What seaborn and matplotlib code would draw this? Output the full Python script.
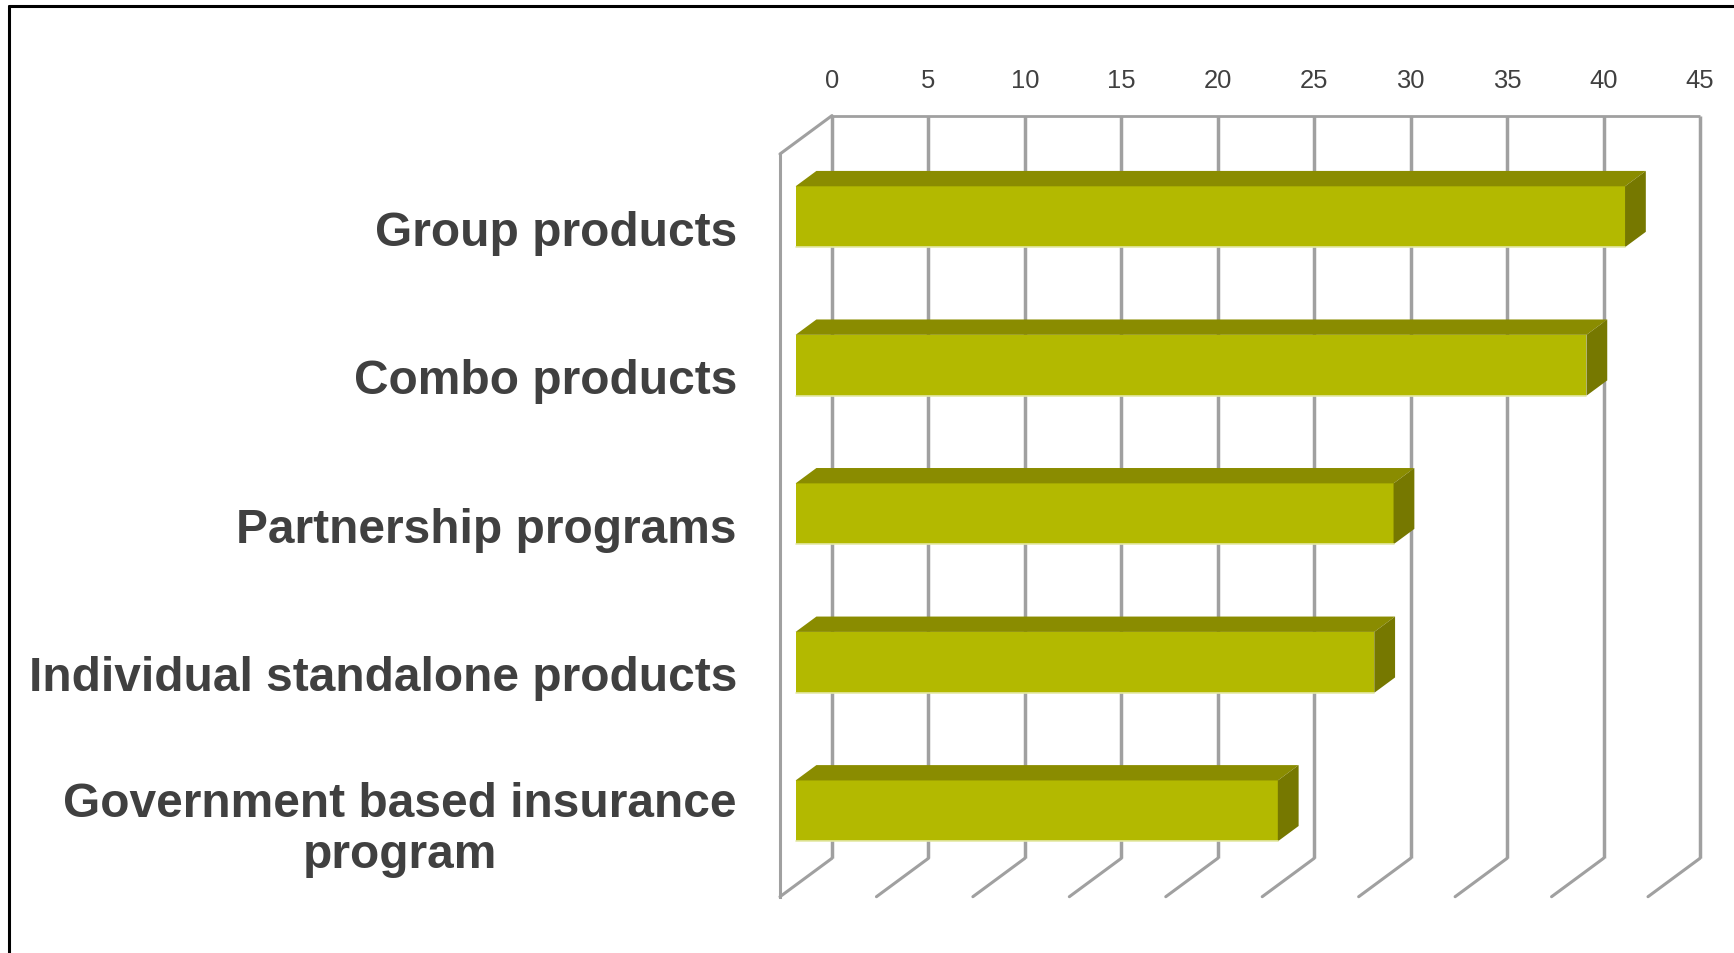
import numpy as np
import pandas as pd
import matplotlib
matplotlib.use("Agg")
import matplotlib.pyplot as plt
from matplotlib.patches import Polygon
from matplotlib.lines import Line2D
import seaborn as sns

# ---- data -------------------------------------------------------------
categories = [
    "Group products",
    "Combo products",
    "Partnership programs",
    "Individual standalone products",
    "Government based insurance\nprogram",
]
values = [43, 41, 31, 30, 25]
x_ticks = [0, 5, 10, 15, 20, 25, 30, 35, 40, 45]

# ---- style ------------------------------------------------------------
sns.set_style("white")
plt.rcParams["font.family"] = ["Liberation Sans", "DejaVu Sans"]

FRONT = "#B3B900"
TOP = "#8A8C00"
SIDE = "#767800"
GRID = "#A0A0A0"
TEXT = "#404040"

W, H = 1734, 953
fig = plt.figure(figsize=(W / 100, H / 100 + 0.0001), dpi=100)
fig.patch.set_facecolor("white")

# front plane of the 3-D box (pixels) and depth vector of the box
left_px, right_px = 780, 1648
top_px, bottom_px = 154, 896.7
depth_px = (52, 38.4)

rect_front = [left_px / W, (H - bottom_px) / H,
              (right_px - left_px) / W, (bottom_px - top_px) / H]
rect_back = [(left_px + depth_px[0]) / W, (H - bottom_px + depth_px[1]) / H,
             (right_px - left_px) / W, (bottom_px - top_px) / H]

# ---- back wall: gridlines and value labels -----------------------------
ax_back = fig.add_axes(rect_back, zorder=1)
ax_back.set_xlim(0, 45)
ax_back.set_ylim(0, 1)
ax_back.vlines(x_ticks, 0, 1, color=GRID, lw=2.5, clip_on=False)
ax_back.hlines(1, 0, 45, color=GRID, lw=2.0, clip_on=False)
for s in ax_back.spines.values():
    s.set_visible(False)
ax_back.set_yticks([])
ax_back.xaxis.tick_top()
ax_back.set_xticks(x_ticks)
ax_back.set_xticklabels([str(t) for t in x_ticks])
ax_back.tick_params(axis="x", length=0, pad=16.5, labelsize=18.4, labelcolor=TEXT)
ax_back.patch.set_alpha(0)

# ---- front plane: bars -------------------------------------------------
ax = fig.add_axes(rect_front, zorder=2)
ax.patch.set_alpha(0)
df = pd.DataFrame({"category": categories, "value": values})
sns.barplot(data=df, x="value", y="category", orient="h", width=0.41,
            color=FRONT, saturation=1, ax=ax, zorder=5)
ax.set_xlim(0, 45)
ax.set_ylim(len(categories) - 0.5, -0.5)

# depth vector in data units
ddx = depth_px[0] / ((right_px - left_px) / 45)
ddy = -depth_px[1] / ((bottom_px - top_px) / len(categories))
f0, bd = 0.30, 0.40  # bar front depth and bar thickness (fractions of box depth)

for p in list(ax.patches):
    x0, y0 = p.get_x(), p.get_y()
    w, h = p.get_width(), p.get_height()
    fx, fy = x0 + f0 * ddx, y0 + f0 * ddy
    p.set_x(fx)
    p.set_y(fy)
    p.set_edgecolor("none")
    p.set_clip_on(False)
    bx, by = bd * ddx, bd * ddy
    top = Polygon([(fx, fy), (fx + w, fy), (fx + w + bx, fy + by), (fx + bx, fy + by)],
                  closed=True, facecolor=TOP, edgecolor="none", zorder=5, clip_on=False)
    side = Polygon([(fx + w, fy), (fx + w, fy + h), (fx + w + bx, fy + h + by),
                    (fx + w + bx, fy + by)],
                   closed=True, facecolor=SIDE, edgecolor="none", zorder=5, clip_on=False)
    ax.add_patch(top)
    ax.add_patch(side)
    ax.plot([fx, fx + w], [fy + h, fy + h], color="#E4E9A8", lw=1.2,
            zorder=6, clip_on=False)

# floor and side-wall diagonals
ymax = len(categories) - 0.5
for t in x_ticks:
    ax.plot([t, t + ddx], [ymax, ymax + ddy], color=GRID, lw=2.2,
            clip_on=False, zorder=1)
ax.plot([0, ddx], [-0.5, -0.5 + ddy], color=GRID, lw=2.2, clip_on=False, zorder=1)

# axes decoration
for name, s in ax.spines.items():
    s.set_visible(name == "left")
ax.spines["left"].set_color(GRID)
ax.spines["left"].set_linewidth(2.2)
ax.set_xticks([])
ax.set_xlabel("")
ax.set_ylabel("")
ax.set_yticks(range(len(categories)))
ax.set_yticklabels(categories)
ax.set_yticks(np.arange(-0.5, len(categories), 1.0), minor=True)
ax.tick_params(axis="y", which="major", length=0, pad=31, labelsize=34.5,
               labelcolor=TEXT)
ax.tick_params(axis="y", which="minor", length=10, width=2.0, color=GRID)
for lab in ax.get_yticklabels():
    lab.set_fontweight("bold")
    lab.set_multialignment("center")
    lab.set_linespacing(1.17)

# outer frame (top and left edges)
fig.add_artist(Line2D([9 / W, 9 / W], [0, 1 - 6 / H], color="black", lw=2.2))
fig.add_artist(Line2D([9 / W, 1], [1 - 6 / H, 1 - 6 / H], color="black", lw=2.2))

fig.savefig("out.png", dpi=100)
